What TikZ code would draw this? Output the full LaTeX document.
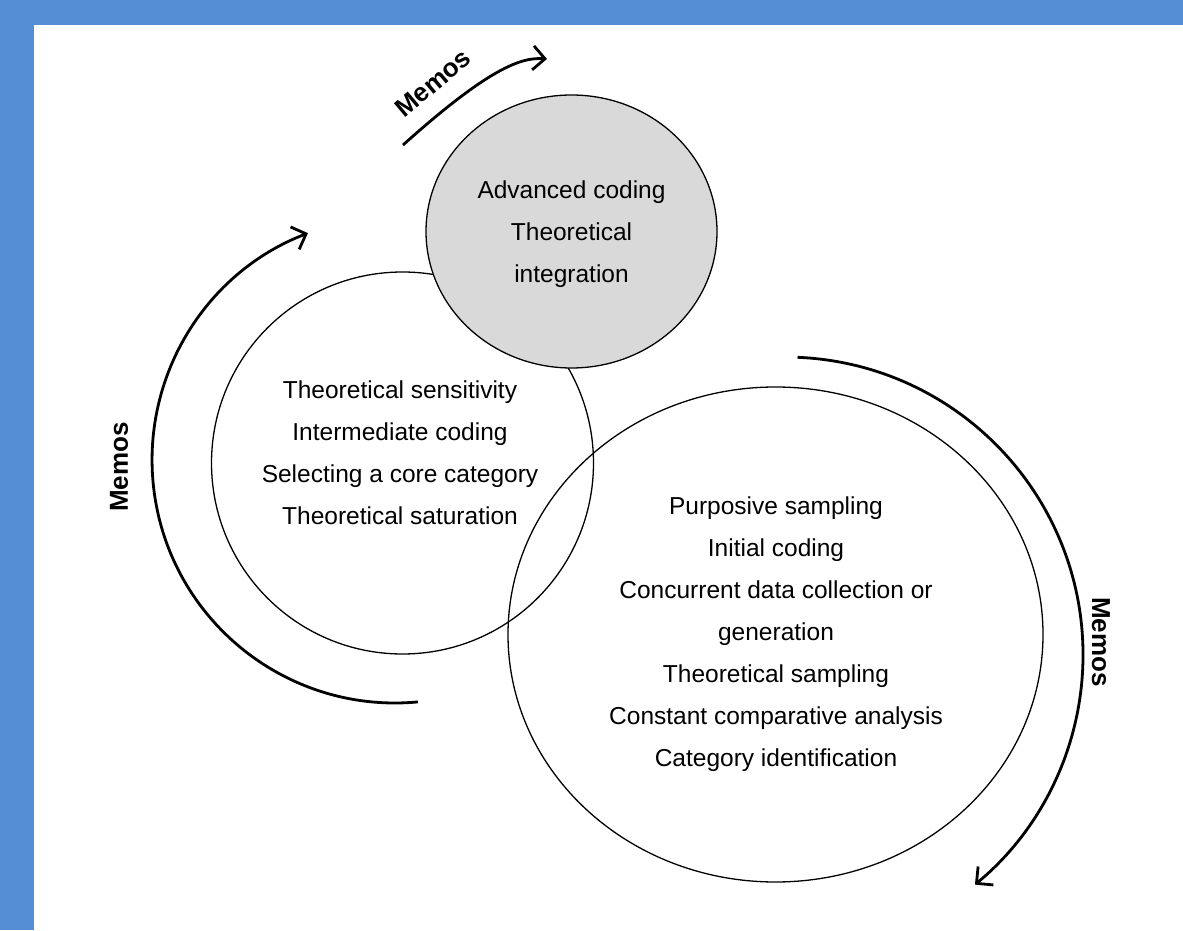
\documentclass[tikz,border=0pt]{standalone}
\usepackage{fontspec}
\setmainfont{Liberation Sans}
\usetikzlibrary{shapes.geometric,arrows.meta}
\definecolor{frame}{HTML}{558ED5}
\definecolor{core}{HTML}{D9D9D9}

\begin{document}
\begin{tikzpicture}[x=1pt, y=1pt,
            stage/.style={draw, line width=1.3pt, inner sep=0pt},
            stagetext/.style={align=center, inner sep=0pt, font=\fontsize{24.5}{42}\selectfont},
            memo/.style={line width=2.8pt, -{Straight Barb[length=12pt, width=24pt]}},
            memotext/.style={font=\fontsize{26}{30}\selectfont\bfseries}]
            \fill[frame] (0,0) rectangle (1183,930);
            \fill[white] (34,0) rectangle (1183,905);
            % stages
            \node[stage, ellipse, minimum width=535pt, minimum height=495pt] (1) at (775.5,295.5) {};
            \node[stagetext] (1t) at (776,296) {Purposive sampling\\Initial coding\\Concurrent data collection or\\generation\\Theoretical sampling\\Constant comparative analysis\\Category identification};
            \node[stage, circle, minimum size=382pt] (2) at (402.5,467) {};
            \node[stagetext] (2t) at (400,477) {Theoretical sensitivity\\Intermediate coding\\Selecting a core category\\Theoretical saturation};
            \node[stage, ellipse, fill=core, minimum width=291pt, minimum height=273pt] (3) at (571.5,698.5) {};
            \node[stagetext] (3t) at (571.5,696) {Advanced coding\\Theoretical\\integration};
            % memos
            \coordinate (a2) at (417.9,228.1);
            \coordinate (a1) at (797.5,572.7);
            \coordinate (a3) at (403,785);
            \coordinate (b3) at (547,871);
            \draw[memo] (a2) arc[start angle=275.4, end angle=111, radius=243];
            \draw[memo] (a1) arc[start angle=87.6, end angle=-50.4, radius=298];
            \draw[memo] (a3) .. controls (490,863) and (522,873) .. (b3);
            \node[memotext, rotate=90] (m2) at (119,463) {Memos};
            \node[memotext, rotate=-90] (m1) at (1101,288) {Memos};
            \node[memotext, rotate=40] (m3) at (433,847) {Memos};
        \end{tikzpicture}
\end{document}
